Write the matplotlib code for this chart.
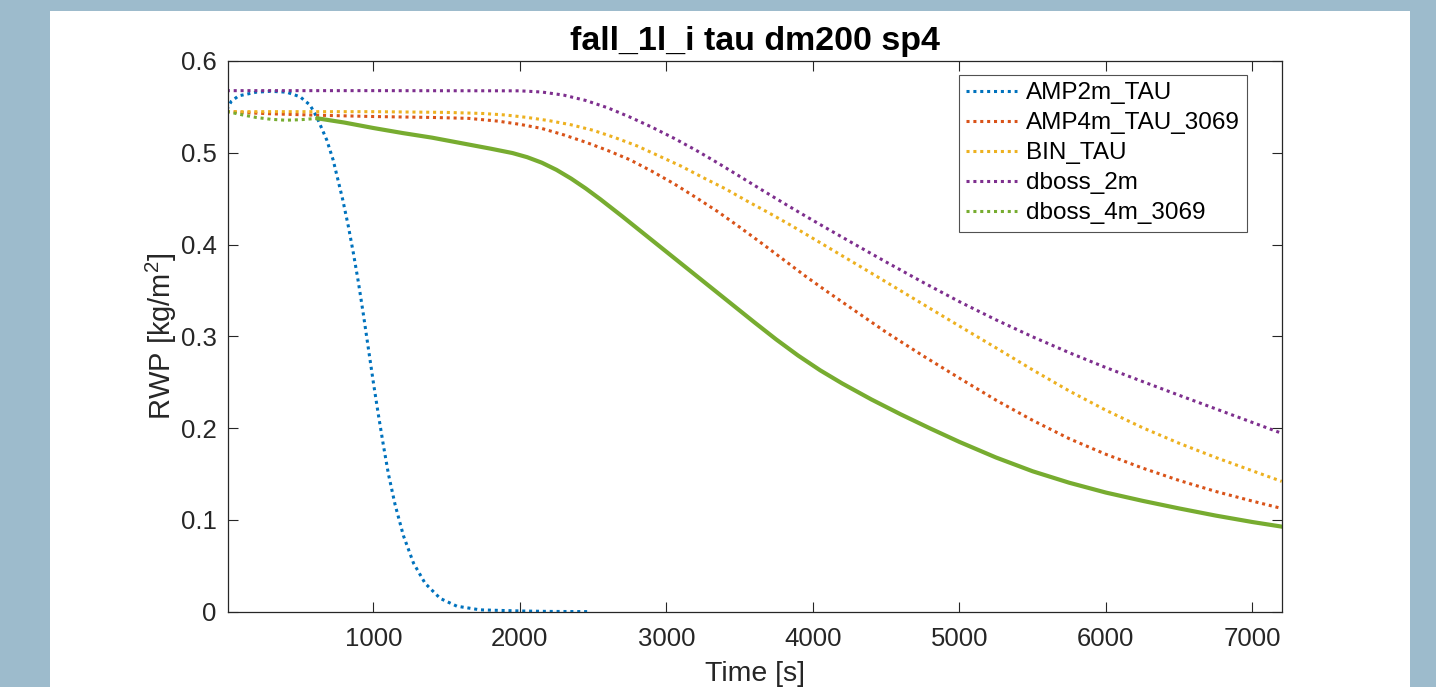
import matplotlib
matplotlib.use("Agg")
import matplotlib.pyplot as plt
import numpy as np

plt.rcParams['font.family'] = ['Liberation Sans', 'DejaVu Sans']
plt.rcParams['mathtext.fontset'] = 'custom'
plt.rcParams['mathtext.rm'] = 'Liberation Sans'
plt.rcParams['mathtext.it'] = 'Liberation Sans:italic'
plt.rcParams['mathtext.bf'] = 'Liberation Sans:bold'

# ---- data ----
t_amp2 = [0, 30, 80, 200, 300, 409, 500, 568, 614, 682, 726, 791, 830, 864, 898, 932, 966,
          1000, 1034, 1069, 1103, 1148, 1205, 1274, 1353, 1456, 1570, 1729, 2000, 2200, 2466]
v_amp2 = [0.547, 0.556, 0.562, 0.566, 0.567, 0.566, 0.561, 0.552, 0.539, 0.514, 0.492, 0.449,
          0.4195, 0.3905, 0.359, 0.324, 0.287, 0.250, 0.215, 0.181, 0.150, 0.117, 0.083,
          0.053, 0.031, 0.0145, 0.006, 0.002, 0.0008, 0.0003, 0.0001]

t_amp4 = [0, 150, 300, 600, 1000, 1400, 1650, 1850, 2000, 2150, 2300, 2450, 2600, 2750, 2900,
          3050, 3200, 3350, 3500, 3650, 3800, 3950, 4100, 4300, 4500, 4750, 5000, 5250, 5500,
          5750, 6000, 6250, 6500, 6750, 7000, 7200]
v_amp4 = [0.545, 0.5435, 0.5425, 0.541, 0.5395, 0.5385, 0.5375, 0.5345, 0.531, 0.5265, 0.5195,
          0.5115, 0.5025, 0.4925, 0.480, 0.4665, 0.4515, 0.436, 0.419, 0.4015, 0.3835, 0.3655,
          0.3485, 0.3265, 0.3045, 0.279, 0.2545, 0.2305, 0.2085, 0.1885, 0.1715, 0.1565, 0.1430,
          0.1310, 0.1205, 0.1125]

t_bin = [0, 1000, 1500, 1750, 1900, 2050, 2200, 2350, 2500, 2650, 2800, 2950, 3100, 3250, 3400,
         3550, 3700, 3850, 4000, 4200, 4400, 4600, 4800, 5000, 5250, 5500, 5750, 6000, 6250,
         6500, 6750, 7000, 7200]
v_bin = [0.5448, 0.5448, 0.544, 0.5428, 0.5412, 0.5385, 0.535, 0.5305, 0.5245, 0.5165, 0.5075,
         0.4965, 0.4855, 0.473, 0.461, 0.4475, 0.4345, 0.421, 0.4068, 0.3878, 0.3688, 0.3496,
         0.3304, 0.3112, 0.2875, 0.2635, 0.2405, 0.2195, 0.2005, 0.1835, 0.1680, 0.1535, 0.1420]

t_db2 = [0, 1000, 2000, 2150, 2300, 2450, 2600, 2750, 2900, 3050, 3200, 3350, 3500, 3650, 3800,
         3950, 4100, 4300, 4500, 4750, 5000, 5250, 5500, 5750, 6000, 6250, 6500, 6750, 7000, 7200]
v_db2 = [0.5677, 0.5677, 0.5675, 0.5662, 0.5628, 0.5570, 0.5490, 0.5390, 0.5280, 0.5160,
         0.5030, 0.4890, 0.4744, 0.4597, 0.4452, 0.4310, 0.4172, 0.3990, 0.3810, 0.3590,
         0.3378, 0.3180, 0.2995, 0.2822, 0.2660, 0.2508, 0.2358, 0.2210, 0.2062, 0.1944]

t_db4 = [0, 100, 200, 300, 400, 500, 620, 800, 1000, 1200, 1400, 1600, 1800, 1950, 2050, 2150,
         2250, 2350, 2450, 2550, 2700, 2850, 3000, 3150, 3300, 3450, 3600, 3750, 3900, 4050,
         4200, 4400, 4600, 4800, 5000, 5250, 5500, 5750, 6000, 6250, 6500, 6750, 7000, 7200]
v_db4 = [0.545, 0.5415, 0.5385, 0.5365, 0.5355, 0.536, 0.5375, 0.533, 0.527, 0.5215, 0.5165,
         0.5105, 0.5045, 0.4997, 0.4952, 0.4892, 0.4814, 0.4719, 0.4611, 0.4493, 0.4306,
         0.4114, 0.3922, 0.3730, 0.3538, 0.3346, 0.3154, 0.2966, 0.2790, 0.2630, 0.2487,
         0.2312, 0.2150, 0.1997, 0.1850, 0.1680, 0.1530, 0.1405, 0.1298, 0.1208, 0.1125,
         0.1047, 0.0977, 0.0927]

labels = ['AMP2m_TAU', 'AMP4m_TAU_3069', 'BIN_TAU', 'dboss_2m', 'dboss_4m_3069']
colors = ['#0072BD', '#D95319', '#EDB120', '#7E2F8E', '#77AC30']
x_ticks = [1000, 2000, 3000, 4000, 5000, 6000, 7000]
y_ticks = [0, 0.1, 0.2, 0.3, 0.4, 0.5, 0.6]

# ---- figure ----
fig = plt.figure(figsize=(14.36, 6.87), dpi=100, facecolor='#9dbbcc')
panel = fig.add_axes([50 / 1436, 0, 1360 / 1436, 676 / 687])
panel.set_facecolor('white')
panel.set_xticks([]); panel.set_yticks([])
for s in panel.spines.values():
    s.set_visible(False)
panel.set_zorder(0)

ax = fig.add_axes([227.7 / 1436, (687 - 611.7) / 687, (1281.7 - 227.7) / 1436, (611.7 - 61) / 687])
ax.set_zorder(1)

dot = (0, (1, 1.25))
lw = 2.2
series = [(t_amp2, v_amp2), (t_amp4, v_amp4), (t_bin, v_bin), (t_db2, v_db2), (t_db4, v_db4)]
for (t, v), lab, c in zip(series, labels, colors):
    t = np.asarray(t, float); v = np.asarray(v, float)
    if lab == 'dboss_4m_3069':
        k = np.searchsorted(t, 620)
        ax.plot(t[:k + 1], v[:k + 1], linestyle=dot, lw=lw, color=c, label=lab,
                dash_capstyle='butt')
        ax.plot(t[k:], v[k:], linestyle='-', lw=3.0, color=c, solid_joinstyle='round')
    else:
        ax.plot(t, v, linestyle=dot, lw=lw, color=c, label=lab, dash_capstyle='butt')

ax.set_xlim(6, 7200)
ax.set_ylim(0, 0.6)
ax.set_xticks(x_ticks)
ax.set_yticks(y_ticks)
ax.set_yticklabels(['0', '0.1', '0.2', '0.3', '0.4', '0.5', '0.6'])
ax.tick_params(direction='in', length=7.5, width=0.8, colors='#262626', labelsize=18.5,
               top=True, right=True, pad=8)
ax.tick_params(axis='x', pad=11)
for s in ax.spines.values():
    s.set_color('#262626'); s.set_linewidth(0.9)

ax.set_xlabel('Time [s]', fontsize=20.5, color='#262626', labelpad=7)
ax.set_ylabel('RWP [kg/m$^{2}$]', fontsize=21, color='#262626', labelpad=1)
ax.set_title('fall_1l_i tau dm200 sp4', fontsize=24.5, fontweight='bold', color='black', pad=8)

leg = ax.legend(loc='upper right', bbox_to_anchor=((1247 - 227.7) / 1054, (611.7 - 75) / 550.7),
                borderaxespad=0, fontsize=17.5, frameon=True, fancybox=False,
                handlelength=2.1, handletextpad=0.35, labelspacing=0.33, borderpad=0.3)
leg.get_frame().set_edgecolor('#262626')
leg.get_frame().set_linewidth(0.8)

fig.savefig('out.png', dpi=100, facecolor=fig.get_facecolor())
